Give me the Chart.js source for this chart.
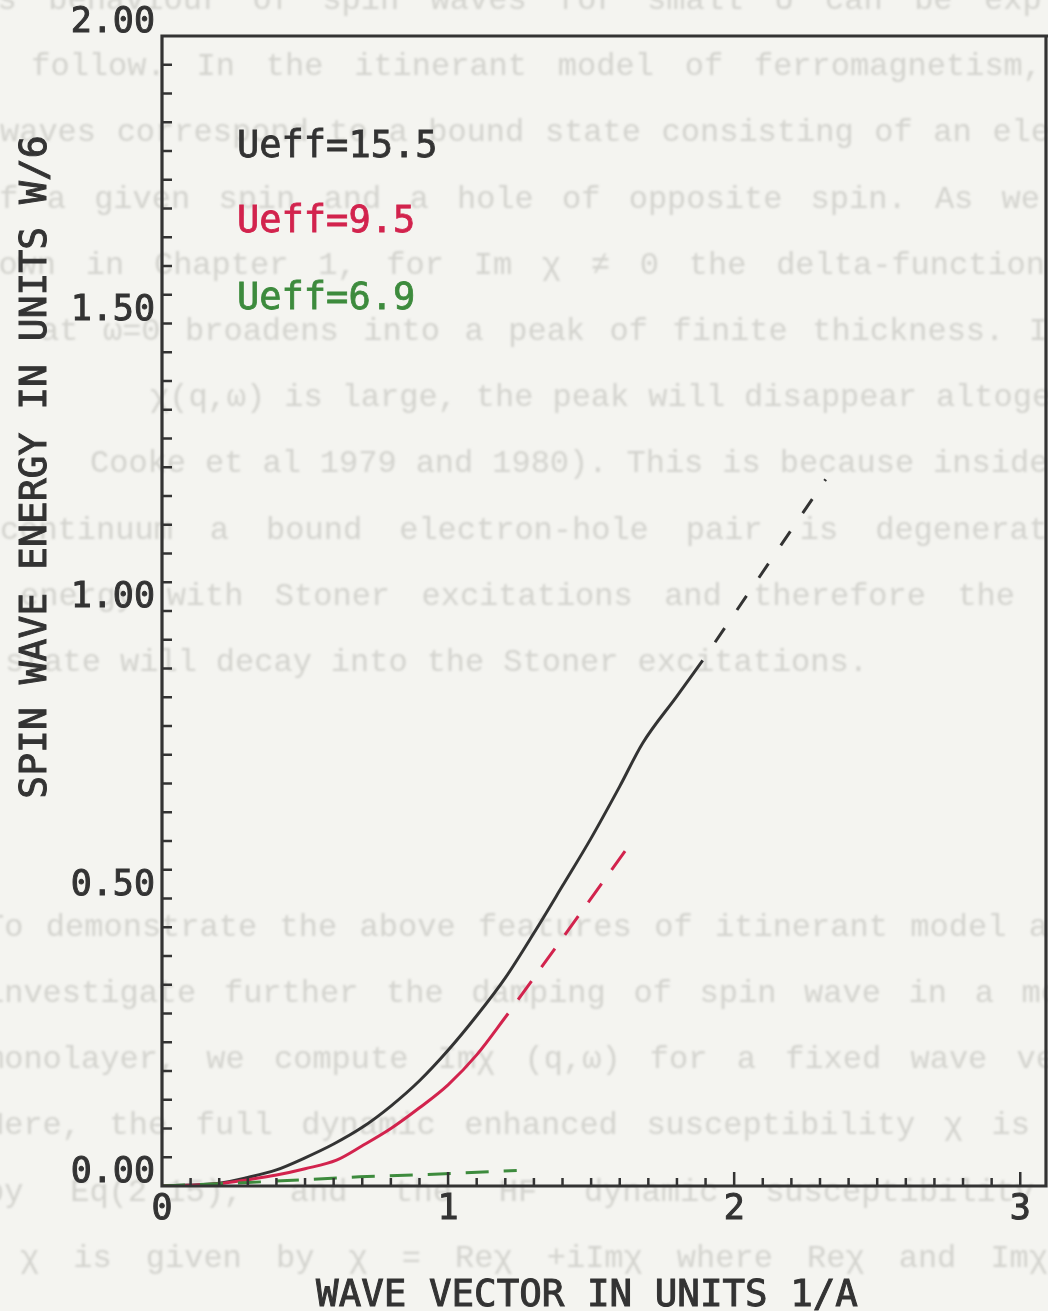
<!DOCTYPE html>
<html>
<head>
<meta charset="utf-8">
<title>Spin wave dispersion</title>
<script src="https://cdn.jsdelivr.net/npm/chart.js@4.4.1/dist/chart.umd.min.js"></script>
<style>
  html, body { margin: 0; padding: 0; background: #f4f4f0; }
  #wrap { width: 1048px; height: 1311px; }
</style>
</head>
<body>
<div id="wrap"><canvas id="dispersionCanvas" width="1048" height="1311"></canvas></div>
<script>
// Spin wave energy (units of W/6) against wave vector (1/A) for three Ueff values.
const seriesNames = ['Ueff=15.5', 'Ueff=9.5', 'Ueff=6.9'];

// Ueff = 15.5, solid part and its dashed continuation
const q155 = [0, 0.2, 0.3, 0.4, 0.5, 0.6, 0.7, 0.8, 0.9, 1.0, 1.1, 1.2, 1.3, 1.4, 1.5, 1.6, 1.68, 1.8, 1.89];
const e155 = [0, 0.005, 0.015, 0.028, 0.049, 0.073, 0.102, 0.139, 0.183, 0.236, 0.296, 0.362, 0.440, 0.522, 0.605, 0.695, 0.770, 0.852, 0.914];
const q155Dash = [1.89, 2.32];
const e155Dash = [0.914, 1.229];

// Ueff = 9.5
const q95 = [0, 0.2, 0.3, 0.4, 0.5, 0.61, 0.7, 0.8, 0.9, 1.0, 1.1, 1.21];
const e95 = [0, 0.004, 0.011, 0.019, 0.030, 0.045, 0.070, 0.100, 0.136, 0.176, 0.228, 0.300];
const q95Dash = [1.21, 1.65];
const e95Dash = [0.300, 0.604];

// Ueff = 6.9 (dashed only)
const q69Dash = [0, 0.3, 0.69, 0.93, 1.24];
const e69Dash = [0, 0.006, 0.016, 0.020, 0.027];

const xTicks = [0, 1, 2, 3];
const yTicks = [0, 0.5, 1.0, 1.5, 2.0];

const INK = '#333333';
const RED = '#d2234d';
const GREEN = '#3d8b3d';
const PLOT_FONT = '"DejaVu Sans Mono", monospace';

// faint show-through of typed text from the other side of the sheet: [text, start x, end x]
const showThrough = [
  ['This behaviour of spin waves for small U can be expla', -60, 1080],
  ['as follow. In the itinerant model of ferromagnetism,', -38, 1042],
  ['waves correspond to a bound state consisting of an ele', 0, 1050],
  ['of a given spin and a hole of opposite spin. As we', -20, 1040],
  ['shown in Chapter 1, for Im \u03c7 \u2260 0 the delta-function', -40, 1045],
  ['at \u03c9=0 broadens into a peak of finite thickness. I', 40, 1048],
  ['\u03c7(q,\u03c9) is large, the peak will disappear altogether', 150, 1120],
  ['Cooke et al 1979 and 1980). This is because inside S', 90, 1060],
  ['continuum a bound electron-hole pair is degenerat', 0, 1048],
  ['energy with Stoner excitations and therefore the', 20, 1015],
  ['state will decay into the Stoner excitations.', 5, 860],
  null, null, null,
  ['To demonstrate the above features of itinerant model a', -15, 1048],
  ['investigate further the damping of spin wave in a mo', -15, 1060],
  ['monolayer, we compute Im\u03c7 (q,\u03c9) for a fixed wave ve', -15, 1055],
  ['Here, the full dynamic enhanced susceptibility \u03c7 is', -15, 1030],
  ['by Eq(2.15), and the HF dynamic susceptibility \u03c7', -15, 1100],
  ['\u03c7 is given by \u03c7 = Re\u03c7 +iIm\u03c7 where Re\u03c7 and Im\u03c7', 20, 1048]
];

function toPoints(xs, ys) {
  return xs.map((x, i) => ({ x: x, y: ys[i] }));
}

// fill plus a thin outline of the same colour, for the heavier pen strokes
function penText(ctx, text, x, y) {
  ctx.fillText(text, x, y);
  ctx.strokeText(text, x, y);
}

const paperPlugin = {
  id: 'paper',
  beforeDraw(chart) {
    const ctx = chart.ctx;
    ctx.save();
    ctx.fillStyle = '#f4f4f0';
    ctx.fillRect(0, 0, chart.width, chart.height);
    ctx.filter = 'blur(1.1px)';
    ctx.fillStyle = '#d3d3ce';
    ctx.font = '32px "Liberation Mono", monospace';
    showThrough.forEach((row, i) => {
      if (!row) return;
      const [text, a, b] = row;
      const words = text.split(' ');
      const widths = words.map(w => ctx.measureText(w).width);
      const total = widths.reduce((s, w) => s + w, 0);
      let gap = words.length > 1 ? (b - a - total) / (words.length - 1) : 0;
      gap = Math.max(gap, 19);
      let x = a;
      const y = i * 66.2 + 9;
      words.forEach((w, k) => {
        ctx.fillText(w, x, y);
        x += widths[k] + gap;
      });
    });
    ctx.restore();
  },
  afterDraw(chart) {
    const ctx = chart.ctx;
    const area = chart.chartArea;
    const xs = chart.scales.x;
    const ys = chart.scales.y;
    ctx.save();

    // frame
    ctx.strokeStyle = INK;
    ctx.lineWidth = 3.2;
    ctx.lineCap = 'square';
    ctx.beginPath();
    ctx.moveTo(area.left, area.bottom);
    ctx.lineTo(area.left, area.top);
    ctx.lineTo(chart.width, area.top);
    ctx.moveTo(area.left, area.bottom);
    ctx.lineTo(area.right, area.bottom);
    ctx.lineTo(area.right, area.top);
    ctx.stroke();

    // inward tick marks
    ctx.lineWidth = 2.5;
    ctx.lineCap = 'butt';
    ctx.beginPath();
    for (let k = 1; k < 40; k++) {
      const py = ys.getPixelForValue(k * 0.05);
      ctx.moveTo(area.left, py);
      ctx.lineTo(area.left + 10, py);
    }
    for (let k = 1; k <= 30; k++) {
      const px = xs.getPixelForValue(k * 0.1);
      const len = k % 10 === 0 ? 14 : 8;
      ctx.moveTo(px, area.bottom);
      ctx.lineTo(px, area.bottom - len);
    }
    ctx.stroke();

    // curve labels
    ctx.font = '37px ' + PLOT_FONT;
    ctx.textAlign = 'left';
    ctx.textBaseline = 'alphabetic';
    ctx.lineWidth = 0.8;
    const labelColors = [INK, RED, GREEN];
    const labelOffsets = [121, 196, 273];
    seriesNames.forEach((name, i) => {
      ctx.fillStyle = labelColors[i];
      ctx.strokeStyle = labelColors[i];
      penText(ctx, name, area.left + 75, area.top + labelOffsets[i]);
    });

    // axis titles
    ctx.fillStyle = INK;
    ctx.strokeStyle = INK;
    ctx.lineWidth = 1;
    ctx.font = '37.5px ' + PLOT_FONT;
    ctx.textAlign = 'center';
    penText(ctx, 'WAVE VECTOR IN UNITS 1/A', 587, 1306);
    ctx.translate(46, 467);
    ctx.rotate(-Math.PI / 2);
    ctx.font = '38px ' + PLOT_FONT;
    penText(ctx, 'SPIN WAVE ENERGY IN UNITS W/6', 0, 0);
    ctx.restore();
  }
};

const chartConfig = {
  type: 'line',
  data: {
    datasets: [
      {
        label: seriesNames[2],
        data: toPoints(q69Dash, e69Dash),
        borderColor: GREEN,
        borderWidth: 3,
        borderDash: [23, 15],
        pointRadius: 0
      },
      {
        label: seriesNames[1],
        data: toPoints(q95, e95),
        borderColor: RED,
        borderWidth: 3,
        cubicInterpolationMode: 'monotone',
        pointRadius: 0
      },
      {
        label: seriesNames[1] + ' (dashed)',
        data: toPoints(q95Dash, e95Dash),
        borderColor: RED,
        borderWidth: 3,
        borderDash: [23, 17],
        borderDashOffset: 23,
        pointRadius: 0
      },
      {
        label: seriesNames[0],
        data: toPoints(q155, e155),
        borderColor: INK,
        borderWidth: 3,
        cubicInterpolationMode: 'monotone',
        pointRadius: 0
      },
      {
        label: seriesNames[0] + ' (dashed)',
        data: toPoints(q155Dash, e155Dash),
        borderColor: INK,
        borderWidth: 3,
        borderDash: [17, 22],
        borderDashOffset: 17,
        pointRadius: 0
      }
    ]
  },
  options: {
    responsive: false,
    animation: false,
    devicePixelRatio: 1,
    layout: {
      padding: { left: 0, top: 36, right: 2, bottom: 0 }
    },
    plugins: {
      legend: { display: false },
      tooltip: { enabled: false }
    },
    scales: {
      x: {
        type: 'linear',
        min: 0,
        max: 3.09,
        grid: { display: false, drawTicks: false },
        border: { display: false },
        afterBuildTicks: scale => { scale.ticks = xTicks.map(v => ({ value: v })); },
        afterFit: scale => { scale.height = 125; },
        ticks: {
          padding: 3,
          color: INK,
          textStrokeColor: INK,
          textStrokeWidth: 1,
          maxRotation: 0,
          autoSkip: false,
          font: { family: PLOT_FONT, size: 35 },
          callback: v => String(v)
        }
      },
      y: {
        type: 'linear',
        min: 0,
        max: 2,
        grid: { display: false, drawTicks: false },
        border: { display: false },
        afterBuildTicks: scale => { scale.ticks = yTicks.map(v => ({ value: v })); },
        afterFit: scale => { scale.width = 162; },
        ticks: {
          padding: 7,
          labelOffset: -13,
          color: INK,
          textStrokeColor: INK,
          textStrokeWidth: 1,
          autoSkip: false,
          font: { family: PLOT_FONT, size: 35 },
          callback: v => v.toFixed(2)
        }
      }
    }
  },
  plugins: [paperPlugin]
};

const ctx = document.getElementById('dispersionCanvas').getContext('2d');
new Chart(ctx, chartConfig);
</script>
</body>
</html>
